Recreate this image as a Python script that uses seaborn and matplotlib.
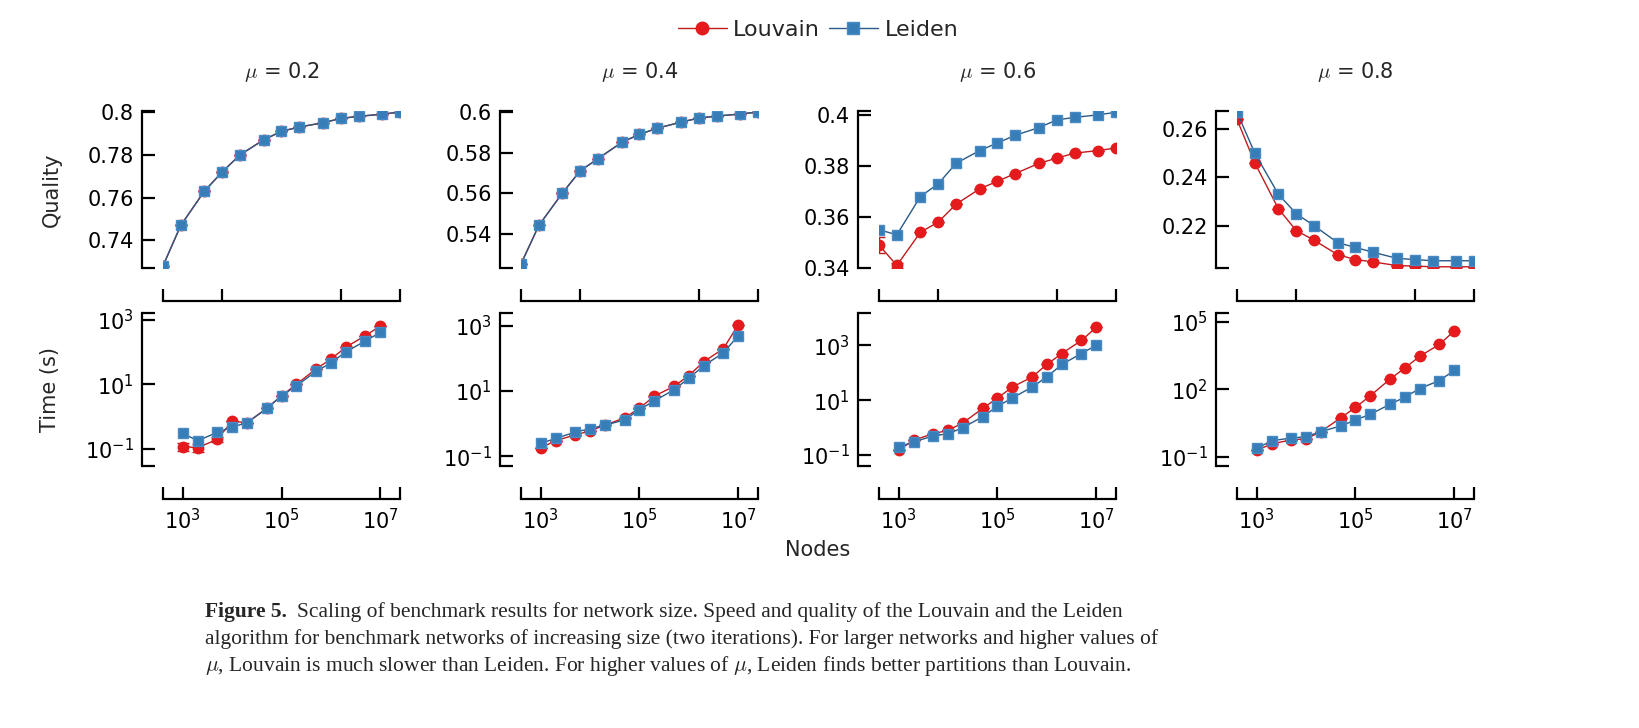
import numpy as np
import matplotlib
matplotlib.use("Agg")
import matplotlib.pyplot as plt
from matplotlib.ticker import FixedLocator, NullFormatter, LogFormatterMathtext
from matplotlib.lines import Line2D
import seaborn as sns

sns.set_theme(style="ticks")
plt.rcParams["font.family"] = ["DejaVu Sans"]
plt.rcParams["mathtext.fontset"] = "cm"

mus = ["0.2", "0.4", "0.6", "0.8"]
nodes = [1e3, 2e3, 5e3, 1e4, 2e4, 5e4, 1e5, 2e5, 5e5, 1e6, 2e6, 5e6, 1e7]

quality_louvain = [
    [0.728, 0.747, 0.763, 0.772, 0.780, 0.787, 0.791, 0.793, 0.795, 0.797, 0.798, 0.799, 0.800],
    [0.525, 0.544, 0.560, 0.571, 0.577, 0.585, 0.589, 0.592, 0.595, 0.597, 0.598, 0.599, 0.600],
    [0.349, 0.341, 0.354, 0.358, 0.365, 0.371, 0.374, 0.377, 0.381, 0.383, 0.385, 0.386, 0.387],
    [0.264, 0.246, 0.227, 0.218, 0.214, 0.208, 0.206, 0.205, 0.2035, 0.2033, 0.203, 0.203, 0.203],
]
quality_leiden = [
    [0.728, 0.747, 0.763, 0.772, 0.780, 0.787, 0.791, 0.793, 0.795, 0.797, 0.798, 0.799, 0.800],
    [0.525, 0.544, 0.560, 0.571, 0.577, 0.585, 0.589, 0.592, 0.595, 0.597, 0.598, 0.599, 0.600],
    [0.355, 0.353, 0.368, 0.373, 0.381, 0.386, 0.389, 0.392, 0.395, 0.398, 0.399, 0.400, 0.401],
    [0.267, 0.250, 0.233, 0.225, 0.220, 0.213, 0.211, 0.209, 0.2065, 0.2060, 0.2055, 0.2055, 0.2055],
]
quality_err = [
    [0] * 13,
    [0] * 13,
    [0.003, 0.001] + [0] * 11,
    [0] * 13,
]
time_louvain = [
    [0.12, 0.11, 0.2, 0.73, 0.65, 1.8, 4.4, 10, 30, 60, 140, 320, 630],
    [0.18, 0.3, 0.45, 0.6, 0.9, 1.5, 3, 7, 14, 30, 80, 200, 1100],
    [0.15, 0.35, 0.6, 0.8, 1.5, 5, 12, 30, 70, 200, 500, 1500, 4500],
    [0.2, 0.38, 0.58, 0.65, 1.35, 5.5, 16, 53, 290, 900, 3000, 1e4, 4e4],
]
time_leiden = [
    [0.31, 0.18, 0.33, 0.48, 0.65, 1.8, 4.4, 9, 25, 46, 100, 220, 400],
    [0.25, 0.35, 0.55, 0.7, 0.9, 1.3, 2.7, 5, 11, 25, 60, 150, 500],
    [0.2, 0.3, 0.5, 0.6, 1.0, 2.5, 6, 12, 30, 70, 200, 500, 1000],
    [0.24, 0.53, 0.7, 0.8, 1.35, 2.4, 4.4, 8, 22, 46, 110, 250, 700],
]
time_err = [
    [0.03, 0.03, 0.04] + [0] * 10,
    [0] * 13, [0] * 13, [0] * 13,
]
q_ylim = [(0.727, 0.8005), (0.523, 0.6005), (0.34, 0.4015), (0.2025, 0.2675)]
q_yticks = [[0.74, 0.76, 0.78, 0.8], [0.54, 0.56, 0.58, 0.6],
            [0.34, 0.36, 0.38, 0.4], [0.22, 0.24, 0.26]]
t_ylim = [(0.03, 1600), (0.05, 2500), (0.04, 15000), (0.04, 2.5e5)]
t_yticks = [[0.1, 10, 1000], [0.1, 10, 1000], [0.1, 10, 1000], [0.1, 100, 1e5]]

red, blue = "#e41a1c", "#377eb8"
W, H = 1640, 728
fig = plt.figure(figsize=(W / 100, H / 100), dpi=100)


def box(l, t, r, b):
    return [l / W, 1 - b / H, (r - l) / W, (b - t) / H]


def caps(ax, xs, ys):
    ax.xaxis.set_minor_locator(FixedLocator(xs))
    ax.yaxis.set_minor_locator(FixedLocator(ys))
    ax.xaxis.set_minor_formatter(NullFormatter())
    ax.yaxis.set_minor_formatter(NullFormatter())


def style(ax):
    ax.spines["top"].set_visible(False)
    ax.spines["right"].set_visible(False)
    ax.spines["left"].set_position(("outward", 15))
    ax.spines["bottom"].set_position(("outward", 24))
    for s in ("left", "bottom"):
        ax.spines[s].set_linewidth(1.6)
        ax.spines[s].set_color("black")
    ax.tick_params(which="both", direction="in", length=9, width=1.6,
                   labelsize=15, colors="black", pad=6)
    ax.set_facecolor("none")


kw = dict(lw=1.0, markersize=7.5)
for i in range(4):
    l = 163 + 358 * i
    r = l + 237
    qa = fig.add_axes(box(l, 111, r, 268))
    ta = fig.add_axes(box(l, 313, r, 466))
    qa.errorbar(nodes, quality_louvain[i], yerr=quality_err[i], color="#c01a1c", marker="o",
                mfc=red, mec=red, capsize=4, zorder=2, **kw)
    qa.plot(nodes, quality_leiden[i], color="#2a5a85", marker="s", mfc=blue, mec="#4a8ac4",
            zorder=4, **kw)
    qa.set_xscale("log")
    qa.set_xlim(1e3, 1e7)
    qa.set_ylim(*q_ylim[i])
    qa.set_xticks([1e4, 1e6])
    qa.set_xticklabels([])
    qa.set_yticks(q_yticks[i])
    qa.set_yticklabels([f"{v:g}" for v in q_yticks[i]])
    caps(qa, [1e3, 1e7], list(q_ylim[i]))
    style(qa)
    qa.set_title(rf"$\mu$ = {mus[i]}", fontsize=15, pad=24)

    ta.errorbar(nodes, time_louvain[i], yerr=time_err[i], color="#c01a1c", marker="o",
                mfc=red, mec=red, capsize=4, zorder=2, **kw)
    ta.plot(nodes, time_leiden[i], color="#2a5a85", marker="s", mfc=blue, mec="#4a8ac4",
            zorder=4, **kw)
    ta.set_xscale("log")
    ta.set_yscale("log")
    xl = (10 ** 2.6, 10 ** 7.4)
    ta.set_xlim(*xl)
    ta.set_ylim(*t_ylim[i])
    ta.xaxis.set_major_locator(FixedLocator([1e3, 1e5, 1e7]))
    ta.xaxis.set_major_formatter(LogFormatterMathtext())
    ta.yaxis.set_major_locator(FixedLocator(t_yticks[i]))
    ta.yaxis.set_major_formatter(LogFormatterMathtext())
    caps(ta, list(xl), list(t_ylim[i]))
    style(ta)
    if i == 0:
        qa.set_ylabel("Quality", fontsize=15, labelpad=18)
        ta.set_ylabel("Time (s)", fontsize=15, labelpad=18)

fig.text(818 / W, 1 - 550 / H, "Nodes", ha="center", va="center", fontsize=15)

handles = [Line2D([], [], color="#c01a1c", marker="o", mfc=red, mec=red, lw=1, markersize=9),
           Line2D([], [], color="#2a5a85", marker="s", mfc=blue, mec="#4a8ac4", lw=1, markersize=9)]
fig.legend(handles, ["Louvain", "Leiden"], loc="center", bbox_to_anchor=(818 / W, 1 - 30 / H),
           ncol=2, frameon=False, fontsize=16, handlelength=2.2, columnspacing=0.4,
           handletextpad=0.3)

serif = ["Liberation Serif", "DejaVu Serif"]
fig.text(205 / W, 1 - 612 / H, "Figure 5.", fontsize=15.5, fontweight="bold",
         family=serif, va="center")
fig.text(297 / W, 1 - 612 / H,
         "Scaling of benchmark results for network size. Speed and quality of the Louvain and the Leiden",
         fontsize=15.5, family=serif, va="center")
fig.text(205 / W, 1 - 639 / H,
         "algorithm for benchmark networks of increasing size (two iterations). For larger networks and higher values of",
         fontsize=15.5, family=serif, va="center")
fig.text(205 / W, 1 - 666 / H,
         r"$\mu$, Louvain is much slower than Leiden. For higher values of $\mu$, Leiden finds better partitions than Louvain.",
         fontsize=15.5, family=serif, va="center")

fig.savefig("out.png", dpi=100)
